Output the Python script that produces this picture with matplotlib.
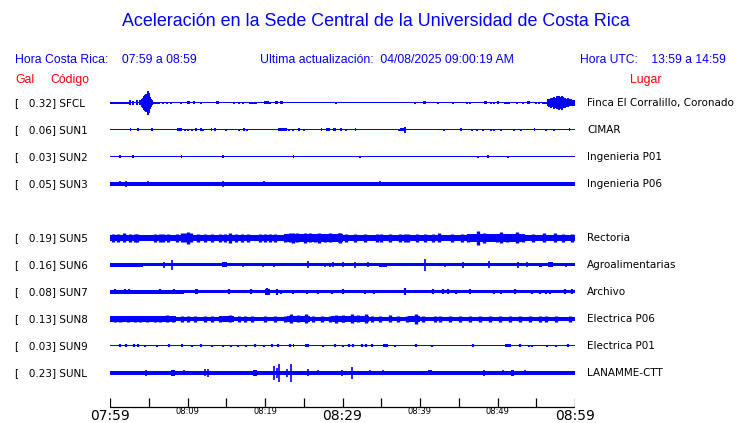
import matplotlib
matplotlib.use("Agg")
import matplotlib.pyplot as plt

# Sismogramas de aceleracion, ultima hora
title = "Aceleración en la Sede Central de la Universidad de Costa Rica"
hora_cr = "Hora Costa Rica:    07:59 a 08:59"
actualizacion = "Ultima actualización:  04/08/2025 09:00:19 AM"
hora_utc = "Hora UTC:    13:59 a 14:59"

stations = ["SFCL", "SUN1", "SUN2", "SUN3", "SUN5", "SUN6", "SUN7", "SUN8", "SUN9", "SUNL"]
gal = [0.32, 0.06, 0.03, 0.05, 0.19, 0.16, 0.08, 0.13, 0.03, 0.23]
places = ["Finca El Corralillo, Coronado", "CIMAR", "Ingenieria P01", "Ingenieria P06",
          "Rectoria", "Agroalimentarias", "Archivo", "Electrica P06", "Electrica P01", "LANAMME-CTT"]
slots = [0, 1, 2, 3, 5, 6, 7, 8, 9, 10]   # SUN4 sin datos

# semiancho del ruido de fondo (px)
base = [0.5, 0.5, 0.5, 1.8, 2.9, 1.5, 1.5, 2.3, 0.5, 1.7]

# minutos desde 07:59
tick_minutes = list(range(0, 61, 5))
big_labels = {0: "07:59", 30: "08:29", 60: "08:59"}
small_labels = {10: "08:09", 20: "08:19", 40: "08:39", 50: "08:49"}

# tramos (t0, t1, amplitud)
sfcl_blocks = [(0, 2.4, 1.3), (5.4, 6.5, 1.3), (9.9, 10.3, 1.5), (13.7, 14.1, 1.5),
               (19.9, 20.5, 1.5), (21.3, 21.7, 1.5), (21.9, 22.3, 1.5), (40.4, 40.8, 1.5),
               (48.3, 48.7, 1.5), (49.9, 50.2, 1.5), (53.8, 54.2, 1.5), (55.7, 56.4, 1.2),
               (56.4, 60, 3.0)]
sun1_blocks = [(2.55, 2.75, 1.5), (3.45, 3.75, 1.5), (8.6, 9.3, 1.5), (13.0, 13.2, 1.5),
               (17.2, 17.4, 1.5), (21.7, 22.8, 1.5), (24.3, 24.5, 1.5), (27.2, 27.4, 1.5),
               (27.9, 28.4, 1.5), (28.8, 29.1, 1.5), (29.7, 29.9, 1.5), (31.6, 31.8, 1.5),
               (37.4, 38.1, 1.5), (45.2, 45.4, 1.5), (54.7, 54.9, 1.5), (59.2, 59.4, 1.5)]
sun2_blocks = [(2.9, 3.15, 1.5), (9.15, 9.35, 1.5), (23.6, 23.8, 1.5)]
sun3_blocks = []
sun5_blocks = [(0, 3.8, 3.4), (5.5, 10.8, 3.3), (13.8, 18.2, 3.3), (22.5, 30.0, 3.6),
               (33.5, 41.0, 3.3), (46.0, 53.5, 3.6), (55.0, 60, 3.3)]
sun6_blocks = [(0, 4.3, 1.8), (14.4, 15.1, 2.5), (34.7, 35.7, 2.0), (55.4, 55.7, 2.0),
               (56.5, 57.1, 2.5)]
sun7_blocks = [(0, 9.5, 1.7), (11.0, 11.4, 2.5), (20.0, 20.6, 3.0)]
sun8_blocks = [(0, 8.5, 2.7), (14.0, 16.0, 2.7), (22.8, 25.8, 3.0), (28.5, 33.4, 3.0),
               (38.5, 40.0, 2.8)]
sun9_blocks = [(9.1, 9.4, 1.5), (20.8, 21.0, 1.5), (23.6, 23.8, 1.5), (25.1, 25.7, 1.5),
               (35.2, 35.9, 1.5), (51.0, 51.8, 1.5)]
sunl_blocks = [(0, 4.0, 2.0), (7.85, 8.4, 3.0), (18.5, 19.0, 3.0), (41.0, 41.5, 2.5),
               (51.8, 52.1, 3.0)]

# picos (t, amplitud)
sfcl_spikes = [(2.6, 2.5), (3.0, 2.2), (3.5, 2.5), (3.87, 2.5), (4.1, 4), (4.25, 5),
               (4.4, 7), (4.55, 8), (4.7, 9), (4.85, 10), (4.95, 12), (5.05, 10), (5.15, 6),
               (5.3, 4), (5.45, 2.5), (6.9, 1), (7.3, 1), (7.9, 1), (9.2, 1), (10.9, 1.5),
               (11.8, 1), (16.0, 1), (16.6, 1), (17.2, 1), (18.1, 1), (18.3, 1), (18.6, 1),
               (18.9, 1), (20.7, 1), (29.1, 1), (39.4, 1), (42.3, 1), (44.2, 1), (46.1, 1),
               (46.4, 1), (49.1, 1), (49.5, 1), (51.0, 1), (51.2, 1), (51.5, 1), (52.5, 1),
               (53.3, 1), (55.0, 1), (55.4, 1), (56.5, 3.5), (56.7, 4), (56.9, 5), (57.1, 4.5),
               (57.3, 6), (57.5, 5), (57.7, 6.5), (57.9, 7), (58.1, 6), (58.3, 7), (58.5, 5.5),
               (58.7, 5), (58.9, 4), (59.1, 4.5), (59.3, 3.5), (59.5, 3.5), (59.7, 3)]
sun1_spikes = [(5.4, 1.5), (9.7, 1), (10.0, 1), (10.6, 1), (11.05, 1.5), (11.7, 1.5),
               (12.0, 1), (13.6, 1.5), (15.0, 1), (16.6, 1), (17.7, 1), (23.1, 1), (23.6, 1),
               (25.0, 1), (30.5, 1), (37.3, 1), (38.1, 3), (43.1, 1), (46.7, 1), (47.4, 1),
               (48.1, 1), (49.1, 1), (49.5, 1), (50.4, 1), (52.1, 1), (53.0, 1), (56.3, 1),
               (57.3, 1)]
sun2_spikes = [(1.29, 1.5), (14.6, 1.5), (32.3, 1), (47.5, 1), (48.8, 1.5), (51.3, 1)]
sun3_spikes = [(1.29, 2.5), (2.06, 3), (4.9, 2.5), (14.6, 3), (19.9, 2.5), (34.8, 2.5)]
sun5_spikes = [(0.43, 4), (1.08, 4), (1.8, 4.5), (2.58, 4), (3.2, 4), (3.5, 4),
               (5.8, 4), (6.45, 4), (6.9, 4), (7.5, 4), (8.6, 4), (9.25, 4.5),
               (9.7, 4.5), (10.0, 6), (10.45, 4.5), (11.4, 3.8), (12.3, 3.8), (13.1, 3.8),
               (14.2, 4), (14.8, 4), (15.5, 5), (16.3, 4), (17.0, 4), (17.8, 4),
               (19.4, 4), (20.0, 4), (20.6, 4), (21.3, 4), (22.6, 4), (23.2, 4.5),
               (23.65, 5), (24.1, 4.5), (25.2, 5), (25.8, 4.5), (26.4, 4), (27.0, 5),
               (27.7, 4), (28.4, 4.5), (29.5, 4.5), (29.7, 5), (30.5, 4), (31.6, 4),
               (32.9, 4), (34.4, 4), (35.0, 4), (36.1, 4), (37.4, 4), (38.0, 4),
               (38.5, 4), (39.6, 4), (40.6, 4), (41.7, 4), (42.4, 4.5), (44.1, 4),
               (45.4, 4), (46.2, 4), (47.5, 7), (48.2, 5), (49.9, 4), (50.5, 5.5),
               (51.2, 4), (52.5, 5.5), (53.3, 4), (54.6, 4), (56.0, 4.5), (57.4, 4.5),
               (58.5, 4), (59.6, 4)]
sun6_spikes = [(7.0, 3), (8.04, 5), (17.2, 1.8), (19.8, 2), (21.1, 1.8), (25.6, 3.5),
               (27.7, 2), (28.4, 2), (28.8, 2.5), (30.0, 2.5), (31.6, 3), (33.3, 2.5),
               (40.6, 6), (43.2, 1.8), (45.6, 3), (48.9, 3.5), (52.7, 3), (53.8, 2.5),
               (58.9, 2)]
sun7_spikes = [(0.65, 2.5), (1.5, 2), (1.9, 2.5), (2.4, 2.5), (3.4, 2), (6.5, 2.5),
               (8.2, 2.5), (15.3, 2.5), (18.2, 2.5), (20.3, 3.5), (21.5, 3), (22.1, 2),
               (23.6, 2), (25.4, 2), (26.9, 2), (28.6, 2), (30.0, 2.5), (32.9, 2), (34.0, 2),
               (38.0, 3.5), (41.7, 2.5), (43.0, 2.5), (43.6, 2.5), (44.7, 2), (46.4, 2.5),
               (49.5, 2), (50.5, 2), (52.2, 2.5), (54.4, 2), (55.5, 2), (56.3, 2), (56.8, 2),
               (58.7, 2.5), (59.6, 2.5)]
sun8_spikes = [(0.65, 3.2), (1.29, 3.2), (2.37, 3.2), (3.2, 3.2), (3.87, 3.2), (4.73, 3.2),
               (5.8, 3.2), (6.45, 3.2), (7.3, 3.5), (8.17, 3.2), (9.25, 3.2), (10.1, 3.2),
               (11.0, 3.2), (12.3, 3.2), (13.1, 3.2), (14.2, 3.2), (15.5, 3.5), (16.6, 3.2),
               (17.4, 3.2), (18.3, 3.2), (20.0, 3.2), (21.3, 3.2), (22.6, 3.2), (23.4, 4.5),
               (24.3, 3.5), (25.3, 4.5), (26.2, 3.2), (27.3, 3.2), (28.4, 3.2), (29.2, 4),
               (30.0, 3.2), (30.1, 3.5), (31.2, 4.5), (32.0, 3.5), (33.0, 4.5), (33.8, 3.2),
               (34.8, 3.2), (36.1, 3.5), (37.2, 3.2), (38.3, 3.2), (39.5, 5), (40.4, 3.2),
               (41.9, 3.2), (42.6, 3.2), (43.9, 3.2), (45.2, 3.2), (46.4, 3.2), (47.7, 3.2),
               (49.0, 3.2), (50.3, 3.2), (51.6, 3.2), (52.9, 3.2), (54.2, 3.2), (55.5, 3.2),
               (56.3, 3.2), (57.6, 3.2), (59.3, 3.2)]
sun9_spikes = [(1.29, 1.5), (2.02, 1.5), (3.14, 1.5), (3.66, 1.5), (4.52, 1), (6.02, 1),
               (7.65, 1.5), (10.62, 1), (11.74, 1.5), (13.1, 1), (14.6, 1), (15.6, 1),
               (16.5, 1), (17.6, 1), (18.7, 1.5), (19.9, 1), (21.7, 1.5), (23.2, 1.5),
               (27.5, 1), (29.0, 1.5), (30.1, 1), (30.9, 1.5), (31.4, 1.5), (32.5, 1.5),
               (33.0, 1.5), (33.8, 1.5), (36.8, 1), (39.5, 1.5), (41.5, 1), (46.9, 1.5),
               (52.9, 1.5), (54.0, 1), (54.5, 1), (56.4, 1), (57.5, 1), (59.1, 1.5)]
sunl_spikes = [(4.65, 3), (9.6, 2.5), (11.2, 2), (12.2, 3.5), (12.6, 4), (21.2, 7),
               (21.5, 5), (21.85, 9), (22.9, 4), (23.3, 9), (25.6, 3.5), (26.9, 2.5),
               (29.9, 3), (31.2, 6), (33.5, 2.5), (35.2, 2.5), (36.5, 2), (38.1, 2),
               (48.3, 3), (50.7, 2.5), (53.5, 2.5), (55.4, 2), (59.1, 2)]

blocks = [sfcl_blocks, sun1_blocks, sun2_blocks, sun3_blocks, sun5_blocks,
          sun6_blocks, sun7_blocks, sun8_blocks, sun9_blocks, sunl_blocks]
spikes = [sfcl_spikes, sun1_spikes, sun2_spikes, sun3_spikes, sun5_spikes,
          sun6_spikes, sun7_spikes, sun8_spikes, sun9_spikes, sunl_spikes]
spike_lw = [1.4, 1.4, 1.4, 1.2, 2.4, 1.2, 1.6, 2.4, 1.6, 1.2]

W, H = 740, 423
BLUE = "#0000ff"
fig = plt.figure(figsize=(W / 100, H / 100), dpi=100)

# capa de textos en pixeles
tx = fig.add_axes([0, 0, 1, 1])
tx.set_xlim(0, W)
tx.set_ylim(H, 0)
tx.axis("off")

# capa de trazas: x en minutos, y en pixeles
x0, x1 = 110, 575
ax = fig.add_axes([x0 / W, 0, (x1 - x0) / W, 1])
ax.set_xlim(0, 60)
ax.set_ylim(H, 0)
ax.axis("off")

sans = ["Liberation Sans", "DejaVu Sans"]
tx.text(376, 21, title, color=BLUE, fontsize=12.85, family=sans, ha="center", va="center")
tx.text(15, 60, hora_cr, color=BLUE, fontsize=8.8, family=sans, va="center")
tx.text(260, 60, actualizacion, color=BLUE, fontsize=8.85, family=sans, va="center")
tx.text(580, 60, hora_utc, color=BLUE, fontsize=8.75, family=sans, va="center")
tx.text(15, 80, "Gal", color="red", fontsize=8.8, family=sans, va="center")
tx.text(50, 80, "Código", color="red", fontsize=8.8, family=sans, va="center")
tx.text(630, 80, "Lugar", color="red", fontsize=8.8, family=sans, va="center")

for i, st in enumerate(stations):
    y = 103 + 27 * slots[i]
    tx.text(15, y, "[   %.2f] %s" % (gal[i], st), fontsize=7.5, va="center")
    tx.text(587, y, places[i], fontsize=7.5, va="center")

    b = base[i]
    ax.fill_between([0, 60], y - b, y + b, color=BLUE, lw=0)
    for t0, t1, a in blocks[i]:
        ax.fill_between([t0, t1], y - a, y + a, color=BLUE, lw=0)
    if spikes[i]:
        ts = [s[0] for s in spikes[i]]
        amps = [s[1] for s in spikes[i]]
        ax.vlines(ts, [y - a for a in amps], [y + a for a in amps], color=BLUE, lw=spike_lw[i])

# eje de tiempo
ax_y = 407
ax.plot([0, 60], [ax_y, ax_y], color="black", lw=0.9)
ax.vlines(tick_minutes, ax_y - 9, ax_y, color="black", lw=0.9)
for m, lab in big_labels.items():
    ax.text(m, 416, lab, fontsize=10, ha="center", va="center")
for m, lab in small_labels.items():
    ax.text(m, 412, lab, fontsize=6, ha="center", va="center")

fig.savefig("out.png", dpi=100)
